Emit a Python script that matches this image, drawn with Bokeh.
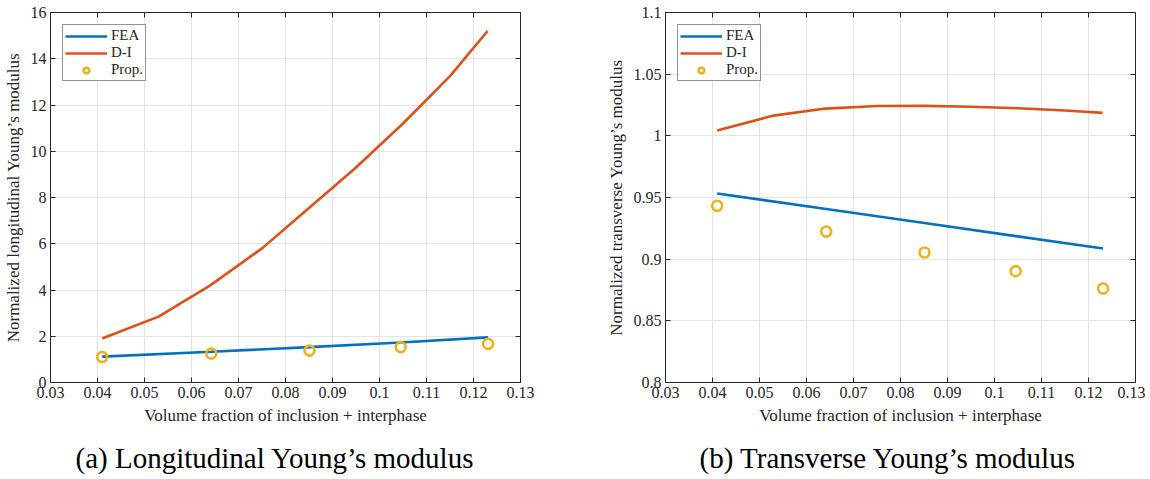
from bokeh.plotting import figure
from bokeh.models import FixedTicker, LinearAxis, Legend, LegendItem, Title, Range1d
from bokeh.layouts import row
from bokeh.embed import file_html
from bokeh.resources import INLINE

# ---------------- data ----------------
x_ticks = [0.03, 0.04, 0.05, 0.06, 0.07, 0.08, 0.09, 0.10, 0.11, 0.12, 0.13]
x_tick_labels = ["0.03", "0.04", "0.05", "0.06", "0.07", "0.08", "0.09", "0.1", "0.11", "0.12", "0.13"]

vf_fea = [0.041, 0.0642, 0.0851, 0.1045, 0.1231]
vf_di = [0.041, 0.053, 0.064, 0.075, 0.085, 0.095, 0.105, 0.115, 0.123]
vf_prop = [0.041, 0.0642, 0.0851, 0.1045, 0.1231]

long_fea = [1.12, 1.33, 1.53, 1.73, 1.95]
long_di = [1.9, 2.85, 4.2, 5.8, 7.55, 9.3, 11.2, 13.25, 15.2]
long_prop = [1.1, 1.25, 1.38, 1.53, 1.67]
long_yticks = [0, 2, 4, 6, 8, 10, 12, 14, 16]
long_ytick_labels = ["0", "2", "4", "6", "8", "10", "12", "14", "16"]

trans_fea = [0.9533, 0.9407, 0.9293, 0.9187, 0.9086]
trans_di = [1.0044, 1.0164, 1.0221, 1.0242, 1.0243, 1.0236, 1.0224, 1.0205, 1.0186]
trans_prop = [0.9433, 0.9224, 0.9054, 0.8903, 0.8762]
trans_yticks = [0.8, 0.85, 0.9, 0.95, 1.0, 1.05, 1.1]
trans_ytick_labels = ["0.8", "0.85", "0.9", "0.95", "1", "1.05", "1.1"]

FONT = "Liberation Serif"
C_FEA = "#0072BD"
C_DI = "#D95319"
C_PROP = "#EDB120"
AX = "#262626"


def style_axis(ax, ticks, labels, show_labels=True):
    ax.ticker = FixedTicker(ticks=ticks)
    ax.major_label_overrides = {t: l for t, l in zip(ticks, labels)}
    ax.axis_line_color = AX
    ax.axis_line_width = 1
    ax.major_tick_line_color = AX
    ax.major_tick_in = 5
    ax.major_tick_out = 0
    ax.minor_tick_line_color = None
    ax.major_label_text_font = FONT
    ax.major_label_text_color = AX
    ax.major_label_text_font_size = "16px"
    ax.major_label_standoff = 4
    if not show_labels:
        ax.major_label_text_font_size = "0px"
        ax.major_label_text_color = None
        ax.major_label_standoff = 0


def make(ylabel, yr, yticks, ylabels, fea, di, prop, caption, cap_off, bl, br):
    p = figure(frame_width=470, frame_height=370,
               x_range=Range1d(0.03, 0.13), y_range=Range1d(*yr),
               output_backend="svg", toolbar_location=None,
               min_border_left=bl, min_border_right=br,
               min_border_top=12, min_border_bottom=5)
    p.outline_line_color = None
    p.background_fill_color = "white"
    style_axis(p.xaxis[0], x_ticks, x_tick_labels)
    style_axis(p.yaxis[0], yticks, ylabels)
    p.xaxis.axis_label = "Volume fraction of inclusion + interphase"
    p.yaxis.axis_label = ylabel
    for ax in (p.xaxis[0], p.yaxis[0]):
        ax.axis_label_text_font = FONT
        ax.axis_label_text_font_style = "normal"
        ax.axis_label_text_font_size = "17px"
        ax.axis_label_text_color = AX
        ax.axis_label_standoff = 5
    top = LinearAxis()
    style_axis(top, x_ticks, x_tick_labels, False)
    p.add_layout(top, "above")
    right = LinearAxis()
    style_axis(right, yticks, ylabels, False)
    p.add_layout(right, "right")

    p.xgrid.ticker = FixedTicker(ticks=x_ticks)
    p.ygrid.ticker = FixedTicker(ticks=yticks)
    for g in (p.xgrid[0], p.ygrid[0]):
        g.grid_line_color = "#e4e4e4"
        g.grid_line_width = 1

    r1 = p.line(vf_fea, fea, line_color=C_FEA, line_width=2.6)
    r2 = p.line(vf_di, di, line_color=C_DI, line_width=2.6)
    r3 = p.scatter(vf_prop, prop, marker="circle", size=10, fill_color=None,
                   line_color=C_PROP, line_width=2.6)
    leg = Legend(items=[LegendItem(label="FEA", renderers=[r1]),
                        LegendItem(label="D-I", renderers=[r2]),
                        LegendItem(label="Prop.", renderers=[r3])],
                 location="top_left")
    leg.margin = 12
    leg.padding = 2
    leg.spacing = -1
    leg.glyph_width = 42
    leg.glyph_height = 14
    leg.label_standoff = 4
    leg.label_text_font = FONT
    leg.label_text_font_size = "15px"
    leg.label_text_color = AX
    leg.label_height = 14
    leg.border_line_color = AX
    leg.border_line_width = 1
    leg.background_fill_alpha = 1
    p.add_layout(leg)

    cap = Title(text=caption, align="left", offset=cap_off,
                text_font=FONT, text_font_size="29px", text_font_style="normal",
                text_color="black", standoff=24)
    p.add_layout(cap, "below")
    return p


p1 = make("Normalized longitudinal Young\u2019s modulus", (0, 16), long_yticks, long_ytick_labels,
          long_fea, long_di, long_prop, "(a) Longitudinal Young\u2019s modulus", 25, 50, 83)
p2 = make("Normalized transverse Young\u2019s modulus", (0.8, 1.1), trans_yticks, trans_ytick_labels,
          trans_fea, trans_di, trans_prop, "(b) Transverse Young\u2019s modulus", 34, 55, 10)

layout = row(p1, p2)
open("out.html", "w").write(file_html(layout, INLINE))
